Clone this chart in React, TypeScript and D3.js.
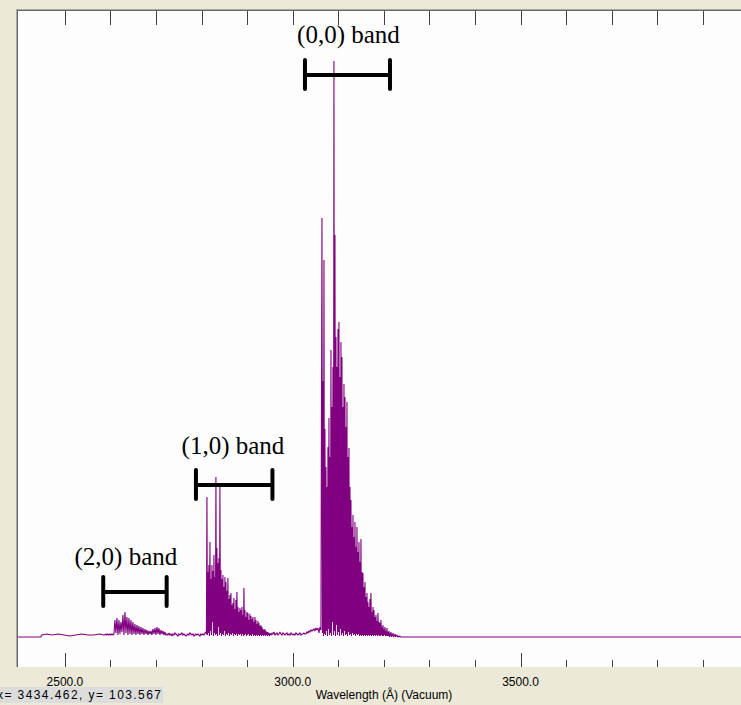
import React from "react";
import * as d3 from "d3";

const W = 741;
const H = 705;

// ---- spectrum data (intensity in arbitrary units) ----
const baselineLeftWl = [2397, 2447, 2449, 2460, 2472, 2485, 2498, 2511, 2524, 2537, 2550, 2563, 2576, 2585];
const baselineLeftI = [30, 30, 32, 33, 32, 33, 32, 31, 32, 33, 32, 32, 33, 32];

const coarseStep = 2.195; // Å per sample (coarse segments)
const fineStep = 1.0975; // Å per sample (dense band heads)

// (2,0) band, coarse sampling
const band20Start = 2587.8;
const band20I = [
  32, 33, 32, 33, 32, 33, 32, 33, 32, 33,
  47, 34, 49, 32, 47, 33, 45, 35, 52, 32, 55, 34, 50, 32, 49, 33, 47, 32, 45, 33,
  43, 32, 42, 33, 41, 32, 40, 33, 39, 32, 38, 33, 37, 32, 36, 33, 36, 32, 38, 33,
  39, 32, 40, 33, 39, 32, 37, 33, 36, 32, 35,
  32, 33, 32, 34, 32, 33, 31, 33, 32, 34, 33, 32, 31, 33, 32, 33, 34, 32, 33, 32,
  31, 32, 33, 32, 34, 33, 32, 33, 31, 32, 33, 32, 33, 32, 31, 33, 32, 33, 32, 34,
];

// (1,0) band, fine sampling
const band10Start = 2809.5;
const band10I = [
  35, 33, 170, 32, 95, 34, 102, 31, 125, 36, 88, 32, 102, 45, 96, 31, 112, 34, 90, 32,
  190, 33, 119, 31, 104, 40, 109, 32, 180, 34, 97, 31, 88, 33, 92, 32, 80, 36, 90, 31,
  85, 33, 76, 32, 89, 34, 68, 31, 72, 33, 74, 32, 62, 34, 64, 31, 69, 33, 58, 32,
  67, 33, 75, 31, 60, 33, 55, 32, 59, 33, 57, 31, 60, 33, 52, 31, 79, 32, 57, 33,
  50, 31, 55, 32, 54, 33, 47, 31, 53, 32, 51, 31, 48, 33, 50, 31, 45, 32, 50, 31,
  47, 32, 43, 31, 46, 32, 44, 31, 41, 32, 42, 31, 40, 32, 38, 31, 37, 32, 38, 31,
  36, 32, 35, 31, 35, 32, 34, 31, 34, 32, 33, 32,
];

// gap between (1,0) and (0,0), coarse sampling
const gapStart = 2954.4;
const gapI = [
  34, 33, 35, 32, 33, 34, 32, 33, 35, 33, 32, 34, 33, 32, 33, 34, 32, 33, 32, 34,
  33, 32, 33, 32, 34, 33, 32, 33, 34, 32, 33, 33, 34, 33, 33, 35, 34, 36, 35, 37,
  36, 37, 38, 36, 39, 37, 39, 34, 40, 37,
];

// (0,0) band, fine sampling
const band00Start = 3064.2;
const band00I = [
  449, 34, 286, 31, 407, 33, 238, 32, 200, 36, 180, 31, 220, 38, 249, 32, 210, 34, 317, 31,
  260, 45, 300, 32, 606, 36, 432, 31, 330, 42, 300, 32, 338, 35, 345, 31, 290, 38, 325, 32,
  310, 34, 260, 31, 283, 36, 270, 32, 240, 33, 265, 31, 210, 35, 219, 32, 180, 33, 167, 31,
  140, 34, 152, 32, 130, 33, 145, 31, 120, 33, 140, 32, 115, 33, 125, 31, 105, 32, 128, 31,
  95, 32, 94, 31, 80, 32, 85, 31, 70, 32, 74, 31, 65, 32, 60, 31, 68, 32, 74, 31,
  55, 32, 60, 31, 57, 32, 50, 31, 52, 32, 46, 31, 54, 32, 45, 31, 44, 31, 47, 32,
  40, 31, 42, 31, 38, 32, 40, 31, 36, 31, 39, 31, 35, 31, 36, 30, 34, 31, 35, 30,
  33, 31, 34, 30, 32, 31, 33, 30, 32, 31, 32, 30, 31, 30, 31, 30, 31, 30,
];

const baselineRightWl = [3241, 3500, 3990];
const baselineRightI = [30, 30, 30];

// ---- axis ----
const minorTicks = [2500, 2600, 2700, 2800, 2900, 3000, 3100, 3200, 3300, 3400, 3500, 3600, 3700, 3800, 3900];
const majorTicks = [2500, 3000, 3500];
const majorLabels = ["2500.0", "3000.0", "3500.0"];
const xTitle = "Wavelength (Å) (Vacuum)";
const statusText = "x= 3434.462, y= 103.567";

// ---- band annotations ----
const bandNames = ["(2,0) band", "(1,0) band", "(0,0) band"];
const bandFromWl = [2584.1, 2787.6, 3026.9];
const bandToWl = [2723.3, 2955.5, 3213.5];
const bandLabelWl = [2633.9, 2868.8, 3122.4];
const bandLevel = [75, 182, 592];
const bandLabelGap = [27, 31, 32];

function buildSeries(): [number, number][] {
  const pts: [number, number][] = [];
  baselineLeftWl.forEach((w, i) => pts.push([w, baselineLeftI[i]]));
  band20I.forEach((v, i) => pts.push([band20Start + i * coarseStep, v]));
  band10I.forEach((v, i) => pts.push([band10Start + i * fineStep, v]));
  gapI.forEach((v, i) => pts.push([gapStart + i * coarseStep, v]));
  band00I.forEach((v, i) => pts.push([band00Start + i * fineStep, v]));
  baselineRightWl.forEach((w, i) => pts.push([w, baselineRightI[i]]));
  return pts;
}

export default function App() {
  const plotL = 18;
  const plotT = 11;
  const plotB = 667;
  const x = d3.scaleLinear().domain([2397, 3984]).range([plotL, W]);
  const y = d3.scaleLinear().domain([0, 660]).range([plotB, plotB - 660]);
  const series = buildSeries();
  const line = d3
    .line<[number, number]>()
    .x((d) => x(d[0]))
    .y((d) => y(d[1]));

  return (
    <svg
      width={W}
      height={H}
      style={{ position: "fixed", left: 0, top: 0, display: "block" }}
      xmlns="http://www.w3.org/2000/svg"
    >
      <rect x={0} y={0} width={W} height={H} fill="#ECE9D8" />
      <rect x={plotL} y={plotT} width={W - plotL} height={plotB - plotT} fill="#FDFDFD" />
      {/* sunken border */}
      <line x1={16.5} x2={16.5} y1={9} y2={plotB} stroke="#A8A8A0" />
      <line x1={17.5} x2={17.5} y1={10} y2={plotB} stroke="#6A6A6A" />
      <line x1={16} x2={W} y1={9.5} y2={9.5} stroke="#A8A8A0" />
      <line x1={17} x2={W} y1={10.5} y2={10.5} stroke="#6A6A6A" />

      {/* top ticks */}
      {minorTicks.map((t) => (
        <line key={"tt" + t} x1={Math.round(x(t)) + 0.5} x2={Math.round(x(t)) + 0.5} y1={11} y2={25} stroke="#404040" />
      ))}
      {/* bottom ticks */}
      {minorTicks.map((t) => {
        const major = majorTicks.includes(t);
        return (
          <line
            key={"bt" + t}
            x1={Math.round(x(t)) + 0.5}
            x2={Math.round(x(t)) + 0.5}
            y1={major ? 653 : 660}
            y2={plotB}
            stroke="#404040"
          />
        );
      })}

      {/* spectrum */}
      <path d={line(series) || ""} fill="none" stroke="#800080" strokeWidth={1.1} strokeLinejoin="miter" strokeMiterlimit={2} />

      {/* band annotations */}
      {bandNames.map((name, i) => {
        const x0 = x(bandFromWl[i]);
        const x1 = x(bandToWl[i]);
        const yy = y(bandLevel[i]);
        return (
          <g key={name}>
            <line x1={x0} x2={x1} y1={yy} y2={yy} stroke="#000" strokeWidth={4} />
            <line x1={x0} x2={x0} y1={yy - 15} y2={yy + 14} stroke="#000" strokeWidth={4} strokeLinecap="round" />
            <line x1={x1} x2={x1} y1={yy - 15} y2={yy + 14} stroke="#000" strokeWidth={4} strokeLinecap="round" />
            <text
              x={x(bandLabelWl[i])}
              y={yy - bandLabelGap[i]}
              textAnchor="middle"
              fontFamily="'Liberation Serif', 'Times New Roman', serif"
              fontSize={25}
              fill="#000"
            >
              {name}
            </text>
          </g>
        );
      })}

      {/* tick labels */}
      {majorTicks.map((t, i) => (
        <text
          key={"lb" + t}
          x={x(t)}
          y={686}
          textAnchor="middle"
          fontFamily="'Liberation Sans', Arial, sans-serif"
          fontSize={12}
          fill="#000"
        >
          {majorLabels[i]}
        </text>
      ))}
      <text
        x={384}
        y={699}
        textAnchor="middle"
        fontFamily="'Liberation Sans', Arial, sans-serif"
        fontSize={12}
        fill="#000"
      >
        {xTitle}
      </text>

      {/* status box */}
      <rect x={0} y={687} width={163} height={16} fill="#DCDCDC" />
      <text
        x={-3}
        y={699}
        fontFamily="'Liberation Sans', Arial, sans-serif"
        fontSize={12}
        textLength={164}
        lengthAdjust="spacing"
        fill="#000"
      >
        {statusText}
      </text>
    </svg>
  );
}
